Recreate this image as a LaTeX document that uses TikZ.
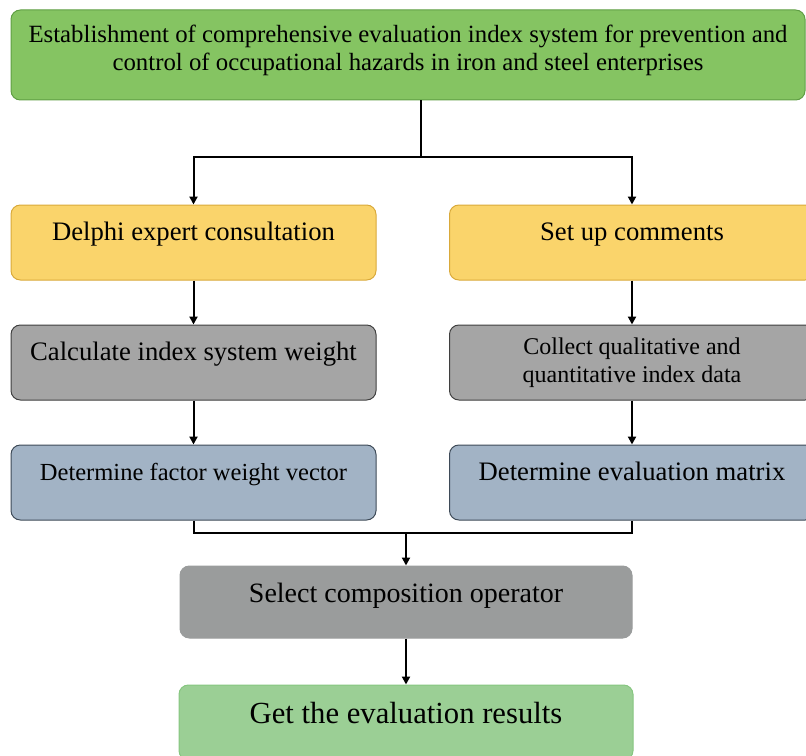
\documentclass[tikz,border=0pt]{standalone}
\usepackage{fontspec}
\setmainfont{Liberation Serif}
\usepackage{tikz}
\usetikzlibrary{arrows.meta,positioning,calc}
\usepackage{xcolor}

\definecolor{topfill}{HTML}{85C462}
\definecolor{topline}{HTML}{5F9E44}
\definecolor{yelfill}{HTML}{FAD46B}
\definecolor{yelline}{HTML}{D9A93A}
\definecolor{grayfill}{HTML}{A5A5A5}
\definecolor{grayline}{HTML}{3F3F3F}
\definecolor{bluefill}{HTML}{A2B3C5}
\definecolor{blueline}{HTML}{3E4A57}
\definecolor{selfill}{HTML}{9A9C9C}
\definecolor{resfill}{HTML}{9BCF95}
\definecolor{resline}{HTML}{86C680}

\tikzset{
  stage/.style={draw, rounded corners=7pt, line width=0.75pt,
    minimum width=273.75pt, minimum height=56.25pt,
    font=\fontsize{20}{24}\selectfont},
  upper/.style={inner ysep=0pt, text height=26.25pt, text depth=30pt},
  flow/.style={-{Triangle[length=6pt,width=6pt]}, line width=1.5pt},
  link/.style={line width=1.5pt}
}

\begin{document}
\begin{tikzpicture}[x=0.75pt,y=-0.75pt]
  \useasboundingbox (0,0) rectangle (806,756);

  % 指標体系の構築
  \node[stage, fill=topfill, draw=topline, minimum width=595.5pt,
        minimum height=67.5pt, align=center, text depth=11pt,
        font=\fontsize{18.6}{21}\selectfont] (system) at (408,55)
    {Establishment of comprehensive evaluation index system for prevention and\\
     control of occupational hazards in iron and steel enterprises};

  % 左の列
  \node[stage, upper, fill=yelfill, draw=yelline] (delphi) at (193.5,242.5)
    {Delphi expert consultation};
  \node[stage, upper, fill=grayfill, draw=grayline] (weight) at (193.5,362.5)
    {Calculate index system weight};
  \node[stage, upper, fill=bluefill, draw=blueline,
        font=\fontsize{18.4}{22}\selectfont] (vector) at (193.5,482.5)
    {Determine factor weight vector};

  % 右の列
  \node[stage, upper, fill=yelfill, draw=yelline] (comments) at (632,242.5)
    {Set up comments};
  \node[stage, fill=grayfill, draw=grayline, align=center,
        font=\fontsize{18}{21}\selectfont] (collect) at (632,362.5)
    {Collect qualitative and\\quantitative index data};
  \node[stage, upper, fill=bluefill, draw=blueline] (evalmat) at (632,482.5)
    {Determine evaluation matrix};

  % 合成と結果
  \node[stage, fill=selfill, draw=selfill, minimum width=339pt, minimum height=54pt,
        inner ysep=0pt, text height=27pt, text depth=27pt,
        font=\fontsize{21}{25}\selectfont] (operator) at (406,602)
    {Select composition operator};
  \node[stage, fill=resfill, draw=resline, minimum width=340.5pt,
        inner ysep=0pt, text height=28.5pt, text depth=27.75pt,
        font=\fontsize{23}{27}\selectfont] (result) at (406,722.5)
    {Get the evaluation results};

  % 接続
  \coordinate (fork) at (421,157);
  \coordinate (join) at (406,533);
  \draw[link] (system.south -| fork) -- (fork);
  \draw[flow] (fork) -| (delphi.north);
  \draw[flow] (fork) -| (comments.north);
  \draw[flow] (delphi) -- (weight);
  \draw[flow] (weight) -- (vector);
  \draw[flow] (comments) -- (collect);
  \draw[flow] (collect) -- (evalmat);
  \draw[link] (vector.south) |- (join) -| (evalmat.south);
  \draw[flow] (join) -- (operator.north);
  \draw[flow] (operator) -- (result);
\end{tikzpicture}
\end{document}
